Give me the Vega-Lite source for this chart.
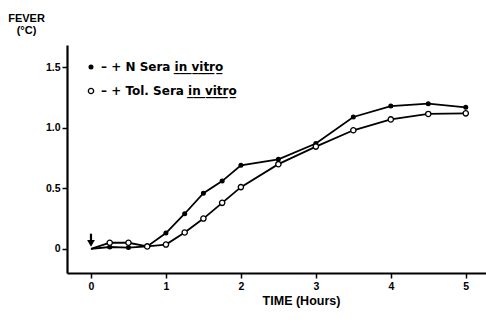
{
  "$schema": "https://vega.github.io/schema/vega-lite/v6.json",
  "width": 419,
  "height": 228,
  "autosize": {"type": "none"},
  "padding": {"left": 67, "top": 45, "right": 0, "bottom": 49},
  "background": "white",
  "config": {
    "view": {"stroke": null},
    "font": "Liberation Sans",
    "axis": {
      "grid": false,
      "domainColor": "black",
      "domainWidth": 2.2,
      "tickColor": "black",
      "tickWidth": 1.5,
      "tickSize": 5,
      "labelColor": "black",
      "labelFont": "Liberation Sans",
      "labelFontWeight": "bold",
      "labelFontSize": 10.5,
      "titleColor": "black",
      "titleFont": "Liberation Sans",
      "titleFontWeight": "bold",
      "titleFontSize": 12.5
    }
  },
  "datasets": {
    "series": [
      {"t": 0, "v": 0.0, "s": "+ N Sera in vitro"},
      {"t": 0.25, "v": 0.015, "s": "+ N Sera in vitro"},
      {"t": 0.5, "v": 0.01, "s": "+ N Sera in vitro"},
      {"t": 0.75, "v": 0.02, "s": "+ N Sera in vitro"},
      {"t": 1.0, "v": 0.13, "s": "+ N Sera in vitro"},
      {"t": 1.25, "v": 0.29, "s": "+ N Sera in vitro"},
      {"t": 1.5, "v": 0.46, "s": "+ N Sera in vitro"},
      {"t": 1.75, "v": 0.56, "s": "+ N Sera in vitro"},
      {"t": 2.0, "v": 0.69, "s": "+ N Sera in vitro"},
      {"t": 2.5, "v": 0.74, "s": "+ N Sera in vitro"},
      {"t": 3.0, "v": 0.87, "s": "+ N Sera in vitro"},
      {"t": 3.5, "v": 1.09, "s": "+ N Sera in vitro"},
      {"t": 4.0, "v": 1.18, "s": "+ N Sera in vitro"},
      {"t": 4.5, "v": 1.2, "s": "+ N Sera in vitro"},
      {"t": 5.0, "v": 1.17, "s": "+ N Sera in vitro"},
      {"t": 0, "v": 0.0, "s": "+ Tol. Sera in vitro"},
      {"t": 0.25, "v": 0.05, "s": "+ Tol. Sera in vitro"},
      {"t": 0.5, "v": 0.05, "s": "+ Tol. Sera in vitro"},
      {"t": 0.75, "v": 0.02, "s": "+ Tol. Sera in vitro"},
      {"t": 1.0, "v": 0.035, "s": "+ Tol. Sera in vitro"},
      {"t": 1.25, "v": 0.135, "s": "+ Tol. Sera in vitro"},
      {"t": 1.5, "v": 0.25, "s": "+ Tol. Sera in vitro"},
      {"t": 1.75, "v": 0.38, "s": "+ Tol. Sera in vitro"},
      {"t": 2.0, "v": 0.51, "s": "+ Tol. Sera in vitro"},
      {"t": 2.5, "v": 0.7, "s": "+ Tol. Sera in vitro"},
      {"t": 3.0, "v": 0.845, "s": "+ Tol. Sera in vitro"},
      {"t": 3.5, "v": 0.98, "s": "+ Tol. Sera in vitro"},
      {"t": 4.0, "v": 1.07, "s": "+ Tol. Sera in vitro"},
      {"t": 4.5, "v": 1.115, "s": "+ Tol. Sera in vitro"},
      {"t": 5.0, "v": 1.12, "s": "+ Tol. Sera in vitro"}
    ],
    "arrow": [{"t": 0, "v": 0.125, "v2": 0.045}]
  },
  "encoding": {
    "x": {
      "field": "t",
      "type": "quantitative",
      "scale": {"domain": [-0.32, 5.27], "nice": false, "zero": false},
      "axis": {
        "values": [0, 1, 2, 3, 4, 5],
        "format": "d",
        "title": "TIME (Hours)",
        "titleX": 234,
        "titleY": 31,
        "titleBaseline": "alphabetic",
        "labelPadding": 3
      }
    },
    "y": {
      "field": "v",
      "type": "quantitative",
      "scale": {"domain": [-0.2, 1.685], "nice": false, "zero": false},
      "axis": {
        "values": [0, 0.5, 1, 1.5],
        "labelExpr": "datum.value == 0 ? '0' : format(datum.value, '.1f')",
        "labelPadding": 2,
        "title": ["FEVER", "(°C)"],
        "titleAngle": 0,
        "titleAlign": "center",
        "titleBaseline": "top",
        "titleX": -41,
        "titleY": -33,
        "titleLineHeight": 12,
        "titleFontSize": 11
      }
    }
  },
  "layer": [
    {
      "data": {"name": "series"},
      "mark": {"type": "line", "color": "black", "strokeWidth": 1.8},
      "encoding": {"detail": {"field": "s"}}
    },
    {
      "data": {"name": "series"},
      "transform": [{"filter": "datum.t > 0"}],
      "mark": {"type": "point", "filled": true, "stroke": "black", "strokeWidth": 1.3, "opacity": 1},
      "encoding": {
        "fill": {
          "field": "s",
          "type": "nominal",
          "scale": {"domain": ["+ N Sera in vitro", "+ Tol. Sera in vitro"], "range": ["black", "white"]},
          "legend": {
            "orient": "none",
            "legendX": 18,
            "legendY": 16,
            "title": null,
            "labelExpr": "'–  ' + replace(datum.label, 'in vitro', 'i̲n̲ ̲v̲i̲t̲r̲o̲')",
            "labelFont": "DejaVu Sans",
            "labelFontWeight": "bold",
            "labelFontSize": 12,
            "labelColor": "black",
            "symbolStrokeColor": "black",
            "symbolStrokeWidth": 1.3,
            "rowPadding": 12,
            "labelOffset": 4
          }
        },
        "size": {
          "field": "s",
          "type": "nominal",
          "scale": {"domain": ["+ N Sera in vitro", "+ Tol. Sera in vitro"], "range": [14, 28]}
        }
      }
    },
    {
      "data": {"name": "arrow"},
      "mark": {"type": "rule", "color": "black", "strokeWidth": 2.2},
      "encoding": {"y2": {"field": "v2"}}
    },
    {
      "data": {"name": "arrow"},
      "mark": {"type": "point", "shape": "triangle-down", "filled": true, "color": "black", "size": 60, "opacity": 1},
      "encoding": {"y": {"field": "v2", "type": "quantitative"}}
    }
  ]
}
